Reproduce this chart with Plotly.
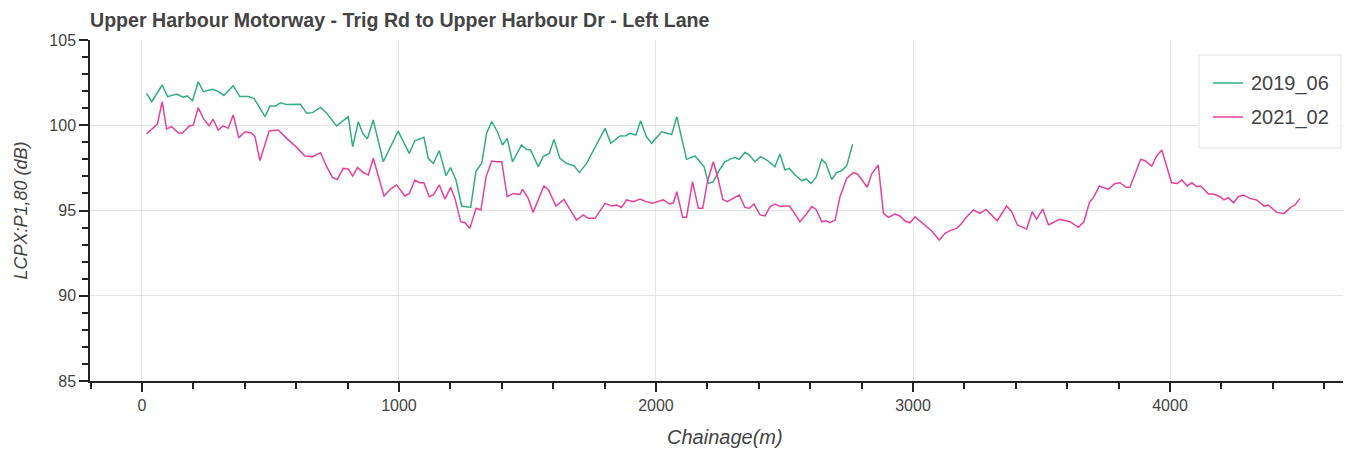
import plotly.graph_objects as go

# Survey 2019_06 - chainage (m) and LCPX:P1,80 (dB)
ch_2019 = [18, 38, 79, 100, 135, 161, 176, 197, 219, 239, 275, 297, 319, 355, 381, 414, 436,
           479, 498, 520, 540, 563, 617, 641, 664, 695, 719, 757, 803, 820, 842, 859, 877, 900,
           939, 997, 1040, 1062, 1097, 1114, 1134, 1157, 1183, 1201, 1222, 1244, 1279, 1300,
           1322, 1341, 1361, 1383, 1403, 1421, 1442, 1477, 1497, 1512, 1542, 1561, 1585, 1603,
           1626, 1652, 1681, 1702, 1730, 1763, 1802, 1824, 1860, 1883, 1899, 1922, 1940, 1963,
           1983, 2022, 2061, 2081, 2119, 2152, 2171, 2187, 2204, 2223, 2243, 2268, 2295, 2307,
           2324, 2346, 2363, 2385, 2407, 2431, 2463, 2482, 2502, 2519, 2541, 2567, 2584, 2603,
           2623, 2645, 2661, 2684, 2703, 2722, 2742, 2765]
db_2019 = [101.87, 101.38, 102.36, 101.68, 101.83, 101.64, 101.72, 101.44, 102.55, 101.97,
           102.11, 101.97, 101.75, 102.32, 101.68, 101.68, 101.58, 100.50, 101.13, 101.13,
           101.32, 101.21, 101.23, 100.70, 100.74, 101.05, 100.70, 99.96, 100.50, 98.74,
           100.21, 99.53, 99.19, 100.31, 97.86, 99.66, 98.35, 99.09, 99.29, 98.06, 97.76,
           98.51, 97.05, 97.52, 96.79, 95.26, 95.18, 97.32, 97.77, 99.53, 100.21, 99.62,
           98.84, 99.23, 97.86, 98.84, 98.58, 98.55, 97.57, 98.16, 98.35, 99.17, 98.06, 97.76,
           97.63, 97.22, 97.76, 98.74, 99.82, 98.94, 99.37, 99.39, 99.53, 99.43, 100.27, 99.33,
           98.94, 99.62, 99.46, 100.50, 98.00, 98.20, 97.86, 97.57, 96.59, 96.69, 97.28, 97.86,
           98.06, 98.11, 98.00, 98.40, 98.26, 97.86, 98.16, 97.96, 97.57, 98.31, 97.38, 97.47,
           97.08, 96.75, 96.85, 96.59, 96.94, 98.00, 97.76, 96.82, 97.22, 97.33, 97.62, 98.89]

# Survey 2021_02 - chainage (m) and LCPX:P1,80 (dB)
ch_2021 = [18, 42, 60, 79, 96, 116, 141, 157, 184, 200, 219, 241, 261, 277, 297, 316, 336,
           355, 377, 401, 427, 440, 459, 495, 530, 563, 602, 634, 664, 695, 719, 741, 760, 783,
           803, 820, 839, 861, 881, 900, 942, 971, 991, 1023, 1040, 1062, 1079, 1097, 1118,
           1134, 1157, 1179, 1201, 1218, 1240, 1257, 1276, 1300, 1319, 1339, 1361, 1380, 1400,
           1421, 1445, 1471, 1481, 1503, 1522, 1564, 1581, 1611, 1642, 1663, 1691, 1717, 1737,
           1763, 1802, 1828, 1847, 1866, 1886, 1912, 1938, 1961, 1987, 2013, 2029, 2052, 2068,
           2081, 2104, 2119, 2142, 2165, 2182, 2200, 2223, 2243, 2260, 2277, 2300, 2324, 2346,
           2363, 2381, 2405, 2424, 2444, 2463, 2485, 2502, 2519, 2535, 2560, 2584, 2606, 2623,
           2645, 2661, 2677, 2697, 2716, 2742, 2768, 2784, 2804, 2822, 2839, 2865, 2885, 2904,
           2930, 2949, 2969, 2988, 3008, 3040, 3073, 3102, 3125, 3144, 3170, 3189, 3209, 3235,
           3261, 3284, 3306, 3328, 3364, 3384, 3406, 3442, 3464, 3481, 3505, 3527, 3570, 3611,
           3643, 3665, 3686, 3704, 3725, 3760, 3786, 3805, 3829, 3844, 3886, 3903, 3929, 3948,
           3968, 4006, 4028, 4046, 4067, 4085, 4104, 4120, 4149, 4169, 4195, 4210, 4227, 4247,
           4266, 4285, 4311, 4337, 4366, 4382, 4415, 4444, 4469, 4486, 4506]
db_2021 = [99.49, 99.82, 100.07, 101.38, 99.78, 99.92, 99.56, 99.53, 99.96, 100.01, 101.03,
           100.34, 99.97, 100.34, 99.72, 99.96, 99.82, 100.60, 99.27, 99.62, 99.53, 99.33,
           97.92, 99.66, 99.72, 99.23, 98.70, 98.20, 98.16, 98.39, 97.57, 96.94, 96.82, 97.47,
           97.43, 97.02, 97.53, 97.22, 97.08, 98.06, 95.85, 96.30, 96.50, 95.85, 96.00, 96.79,
           96.63, 96.63, 95.81, 95.91, 96.50, 95.67, 96.36, 95.71, 94.34, 94.28, 93.95, 95.13,
           95.03, 96.99, 97.90, 97.86, 97.86, 95.81, 96.00, 95.94, 96.24, 95.71, 94.89, 96.44,
           96.24, 95.26, 95.65, 95.13, 94.44, 94.74, 94.54, 94.54, 95.42, 95.26, 95.32, 95.18,
           95.62, 95.52, 95.67, 95.52, 95.42, 95.56, 95.62, 95.38, 95.45, 96.10, 94.60, 94.60,
           96.69, 95.13, 95.13, 96.69, 97.86, 96.79, 95.65, 95.52, 95.71, 95.91, 95.18, 95.13,
           95.38, 94.74, 94.68, 95.23, 95.38, 95.23, 95.26, 95.26, 94.93, 94.34, 94.77, 95.23,
           95.06, 94.34, 94.40, 94.28, 94.44, 95.81, 96.88, 97.22, 97.14, 96.69, 96.36, 97.14,
           97.67, 94.83, 94.60, 94.79, 94.68, 94.38, 94.28, 94.63, 94.24, 93.80, 93.27, 93.66,
           93.82, 93.95, 94.24, 94.63, 95.03, 94.83, 95.06, 94.74, 94.40, 95.26, 94.93, 94.15,
           93.91, 94.93, 94.48, 95.09, 94.15, 94.48, 94.34, 94.01, 94.34, 95.45, 95.81, 96.44,
           96.24, 96.59, 96.63, 96.36, 96.36, 98.00, 97.92, 97.61, 98.20, 98.55, 96.63, 96.59,
           96.79, 96.44, 96.63, 96.40, 96.44, 95.97, 95.97, 95.81, 95.62, 95.75, 95.45, 95.81,
           95.91, 95.71, 95.62, 95.26, 95.32, 94.89, 94.83, 95.18, 95.32, 95.71]

series_names = ["2019_06", "2021_02"]
series_colors = ["#34ad84", "#e8419a"]

FONT = "Liberation Sans, Arial, sans-serif"
TEXT_COLOR = "#444444"
AXIS_COLOR = "#222222"

W, H = 1346, 451
ML, MR, MT, MB = 90, 3, 40, 70
PW, PH = W - ML - MR, H - MT - MB


def px_x(px):
    """Figure pixel column -> plot-area paper coordinate."""
    return (px - ML) / PW


def px_y(py):
    """Figure pixel row -> plot-area paper coordinate."""
    return (H - MB - py) / PH


fig = go.Figure()
for name, color, xs, ys in zip(series_names, series_colors,
                               [ch_2019, ch_2021], [db_2019, db_2021]):
    fig.add_trace(go.Scatter(x=xs, y=ys, mode="lines", name=name, showlegend=False,
                             line=dict(color=color, width=1.5)))

tick_font = dict(family=FONT, size=16, color=TEXT_COLOR)

# Legend panel, top-right inside the frame
shapes = [dict(type="rect", xref="paper", yref="paper",
               x0=px_x(1199), x1=px_x(1341), y0=px_y(148), y1=px_y(55),
               fillcolor="white", line=dict(color="#e5e5e5", width=1), layer="above")]
annotations = []
for i, (name, color) in enumerate(zip(series_names, series_colors)):
    row = 83 + 34 * i
    shapes.append(dict(type="line", xref="paper", yref="paper",
                       x0=px_x(1213), x1=px_x(1243), y0=px_y(row), y1=px_y(row),
                       line=dict(color=color, width=1.5), layer="above"))
    annotations.append(dict(text=name, xref="paper", yref="paper",
                            x=px_x(1249), y=px_y(row), xanchor="left", yanchor="middle",
                            showarrow=False,
                            font=dict(family=FONT, size=20, color=TEXT_COLOR)))

# Axis label for chainage, centred under the full frame
annotations.append(dict(text="<i>Chainage(m)</i>", xref="paper", yref="paper",
                        x=px_x(725), y=px_y(437), xanchor="center", yanchor="middle",
                        showarrow=False, font=dict(family=FONT, size=20, color=TEXT_COLOR)))

fig.update_layout(
    width=W, height=H,
    margin=dict(l=ML, r=MR, t=MT, b=MB),
    paper_bgcolor="white", plot_bgcolor="white",
    title=dict(text="<b>Upper Harbour Motorway - Trig Rd to Upper Harbour Dr - Left Lane</b>",
               x=ML / W, xanchor="left", y=1 - 20 / H, yanchor="middle",
               font=dict(family=FONT, size=19.6, color=TEXT_COLOR)),
    shapes=shapes,
    annotations=annotations,
    showlegend=False,
)

fig.update_xaxes(
    range=[-202, 4673], tickmode="array", tickvals=[0, 1000, 2000, 3000, 4000],
    ticks="outside", ticklen=9, tickwidth=1.5, tickcolor=AXIS_COLOR,
    minor=dict(dtick=200, tick0=0, ticks="outside", ticklen=6, tickwidth=1.5,
               tickcolor=AXIS_COLOR, showgrid=False),
    showline=True, linecolor=AXIS_COLOR, linewidth=1.5,
    showgrid=True, gridcolor="#e5e5e5", gridwidth=1, zeroline=False,
    tickfont=tick_font,
)
fig.update_yaxes(
    range=[85, 105], tickmode="array", tickvals=[85, 90, 95, 100, 105],
    ticks="outside", ticklen=9, tickwidth=1.5, tickcolor=AXIS_COLOR,
    minor=dict(dtick=1, tick0=85, ticks="outside", ticklen=6, tickwidth=1.5,
               tickcolor=AXIS_COLOR, showgrid=False),
    showline=True, linecolor=AXIS_COLOR, linewidth=1.5,
    showgrid=True, gridcolor="#e5e5e5", gridwidth=1, zeroline=False,
    tickfont=tick_font,
    title=dict(text="<i>LCPX:P1,80 (dB)</i>",
               font=dict(family=FONT, size=18, color=TEXT_COLOR), standoff=17),
)

fig.write_html("out.html")
